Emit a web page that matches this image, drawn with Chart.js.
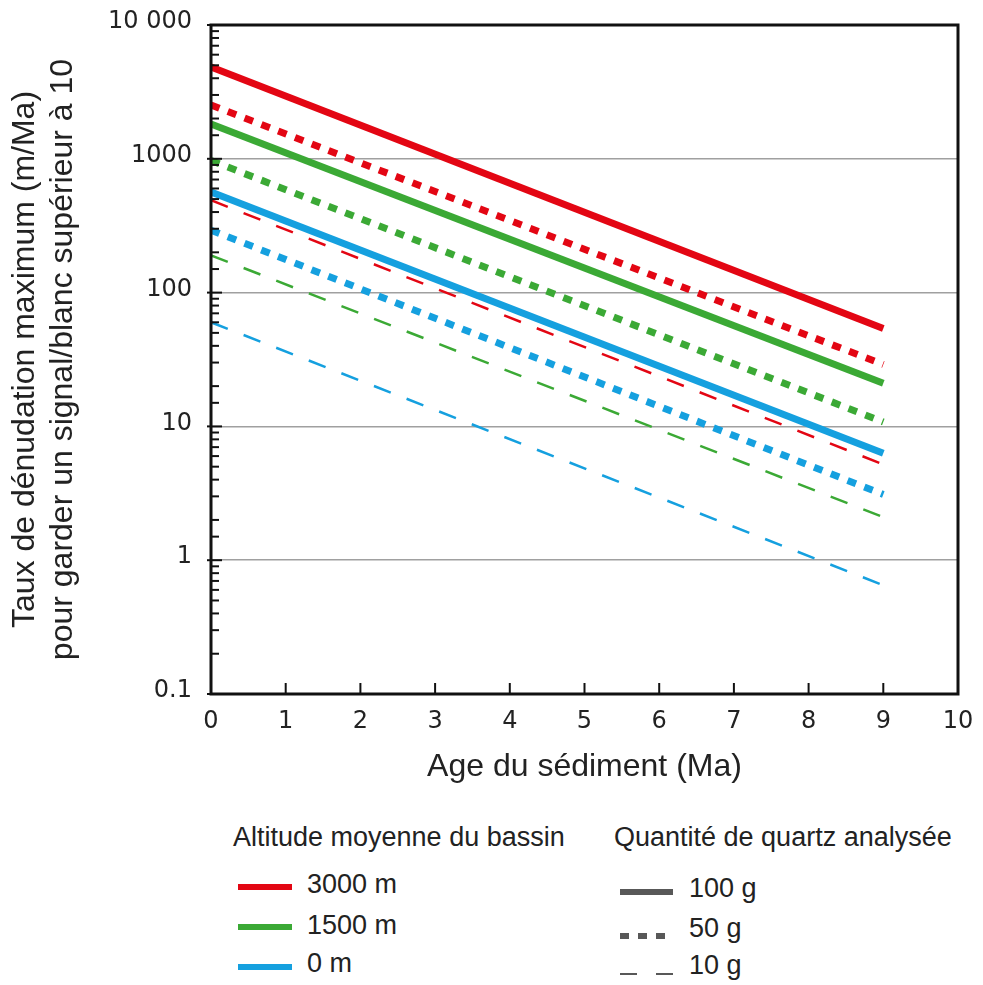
<!DOCTYPE html>
<html>
<head>
<meta charset="utf-8">
<script src="https://cdn.jsdelivr.net/npm/chart.js@4"></script>
<style>
  html, body { margin: 0; padding: 0; background: #fff; }
  #wrap { position: relative; width: 983px; height: 985px; overflow: hidden; }
  #chartBox { position: absolute; left: 0; top: 0; width: 983px; height: 800px; }
  .lg { position: absolute; font-family: 'Liberation Sans', Arial, sans-serif; font-size: 27px; line-height: 27px; color: #222; white-space: nowrap; }
  .sw { position: absolute; height: 6px; }
</style>
</head>
<body>
<div id="wrap">
  <div id="chartBox"><canvas id="denudChart"></canvas></div>
  <div id="legend"></div>
</div>
<script>
// chart data (log y axis)
const ages = [0, 9];                 // Ma
const red100 = [4850, 54];
const red50 = [2520, 29];
const red10 = [490, 5.2];
const green100 = [1820, 21];
const green50 = [970, 10.8];
const green10 = [190, 2.1];
const blue100 = [565, 6.3];
const blue50 = [293, 3.1];
const blue10 = [60, 0.65];

const yTickValues = [0.1, 1, 10, 100, 1000, 10000];
const yTickLabels = ['0.1', '1', '10', '100', '1000', '10 000'];

const altitudeLabels = ['3000 m', '1500 m', '0 m'];
const quartzLabels = ['100 g', '50 g', '10 g'];

const RED = '#e30613';
const GREEN = '#3ba935';
const BLUE = '#15a0df';

const isDecade = v => Math.abs(Math.log10(v) - Math.round(Math.log10(v))) < 1e-6;

function series(values, color, style) {
    const ds = {
        data: ages.map((x, i) => ({ x: x, y: values[i] })),
        borderColor: color,
        pointRadius: 0,
        tension: 0,
        borderCapStyle: 'butt',
        borderWidth: 7
    };
    if (style === 'dot') ds.borderDash = [9, 9];
    if (style === 'dash') { ds.borderDash = [18, 17]; ds.borderWidth = 2.5; }
    return ds;
}

// box + inward tick marks
const frame = {
    id: 'frame',
    afterDraw(chart) {
        const { ctx, chartArea: a, scales } = chart;
        ctx.save();
        ctx.strokeStyle = '#111';
        ctx.lineWidth = 2;
        scales.y.ticks.forEach(t => {
            const y = scales.y.getPixelForValue(t.value);
            const major = isDecade(t.value);
            ctx.beginPath();
            ctx.moveTo(a.left - (major ? 4 : 0), y);
            ctx.lineTo(a.left + (major ? 11 : 8), y);
            ctx.stroke();
        });
        for (let v = 1; v < 10; v++) {
            const x = scales.x.getPixelForValue(v);
            ctx.beginPath();
            ctx.moveTo(x, a.bottom);
            ctx.lineTo(x, a.bottom - 11);
            ctx.stroke();
        }
        ctx.lineWidth = 3;
        ctx.strokeRect(a.left, a.top, a.right - a.left, a.bottom - a.top);
        ctx.restore();
    }
};

const tickFont = { family: "'DejaVu Sans', Verdana, sans-serif", size: 24 };
const titleFont = { family: "'Liberation Sans', Arial, sans-serif", size: 32, lineHeight: 1.1875 };

new Chart(document.getElementById('denudChart'), {
    type: 'line',
    data: {
        datasets: [
            series(red100, RED, 'solid'),
            series(red50, RED, 'dot'),
            series(red10, RED, 'dash'),
            series(green100, GREEN, 'solid'),
            series(green50, GREEN, 'dot'),
            series(green10, GREEN, 'dash'),
            series(blue100, BLUE, 'solid'),
            series(blue50, BLUE, 'dot'),
            series(blue10, BLUE, 'dash')
        ]
    },
    options: {
        responsive: true,
        maintainAspectRatio: false,
        animation: false,
        layout: { padding: { top: 25, right: 25, bottom: 6, left: 0 } },
        plugins: { legend: { display: false }, tooltip: { enabled: false } },
        scales: {
            x: {
                type: 'linear',
                min: 0,
                max: 10,
                afterFit(scale) { scale.height = 100; scale.paddingLeft = 0; scale.paddingRight = 0; },
                grid: { display: false },
                border: { display: false },
                ticks: { stepSize: 1, font: tickFont, color: '#222', padding: 5 },
                title: { display: true, text: 'Age du sédiment (Ma)', font: titleFont, color: '#222', padding: { top: 0, bottom: 8 } }
            },
            y: {
                type: 'logarithmic',
                min: 0.1,
                max: 10000,
                afterFit(scale) { scale.width = 211; scale.paddingTop = 0; scale.paddingBottom = 0; },
                border: { display: false },
                grid: {
                    drawTicks: false,
                    lineWidth: 1.5,
                    color: c => (c.tick && isDecade(c.tick.value)) ? '#a0a0a0' : 'rgba(0,0,0,0)'
                },
                ticks: {
                    autoSkip: false,
                    font: tickFont,
                    color: '#222',
                    padding: 19,
                    labelOffset: -3,
                    callback: v => {
                        const i = yTickValues.findIndex(t => Math.abs(t - v) < t * 1e-6);
                        return i >= 0 ? yTickLabels[i] : '';
                    }
                },
                title: {
                    display: true,
                    text: ['Taux de dénudation maximum (m/Ma)', 'pour garder un signal/blanc supérieur à 10'],
                    font: titleFont,
                    color: '#222',
                    padding: { top: 6, bottom: 0 }
                }
            }
        }
    },
    plugins: [frame]
});

// legend below the chart
const legend = document.getElementById('legend');
function addText(text, left, top) {
    const d = document.createElement('div');
    d.className = 'lg';
    d.textContent = text;
    d.style.left = left + 'px';
    d.style.top = top + 'px';
    legend.appendChild(d);
}
function addSwatch(left, cy, width, h, bg) {
    const d = document.createElement('div');
    d.className = 'sw';
    d.style.left = left + 'px';
    d.style.top = (cy - h / 2) + 'px';
    d.style.width = width + 'px';
    d.style.height = h + 'px';
    d.style.background = bg;
    legend.appendChild(d);
}

addText('Altitude moyenne du bassin', 233, 824);
addText('Quantité de quartz analysée', 614, 824);

const altColors = [RED, GREEN, BLUE];
const altTops = [871, 912, 950];
const altSw = [887, 927, 967];
altitudeLabels.forEach((t, i) => {
    addText(t, 307, altTops[i]);
    addSwatch(238, altSw[i], 54, 6, altColors[i]);
});

const GREY = '#585858';
const qTops = [875, 915, 952];
const qSw = [892, 936, 974];
const qBg = [
    GREY,
    `repeating-linear-gradient(90deg, ${GREY} 0 9px, transparent 9px 18px)`,
    `repeating-linear-gradient(90deg, ${GREY} 0 17px, transparent 17px 36px)`
];
const qH = [6, 6, 2.5];
quartzLabels.forEach((t, i) => {
    addText(t, 689, qTops[i]);
    addSwatch(620, qSw[i], 53, qH[i], qBg[i]);
});
</script>
</body>
</html>
